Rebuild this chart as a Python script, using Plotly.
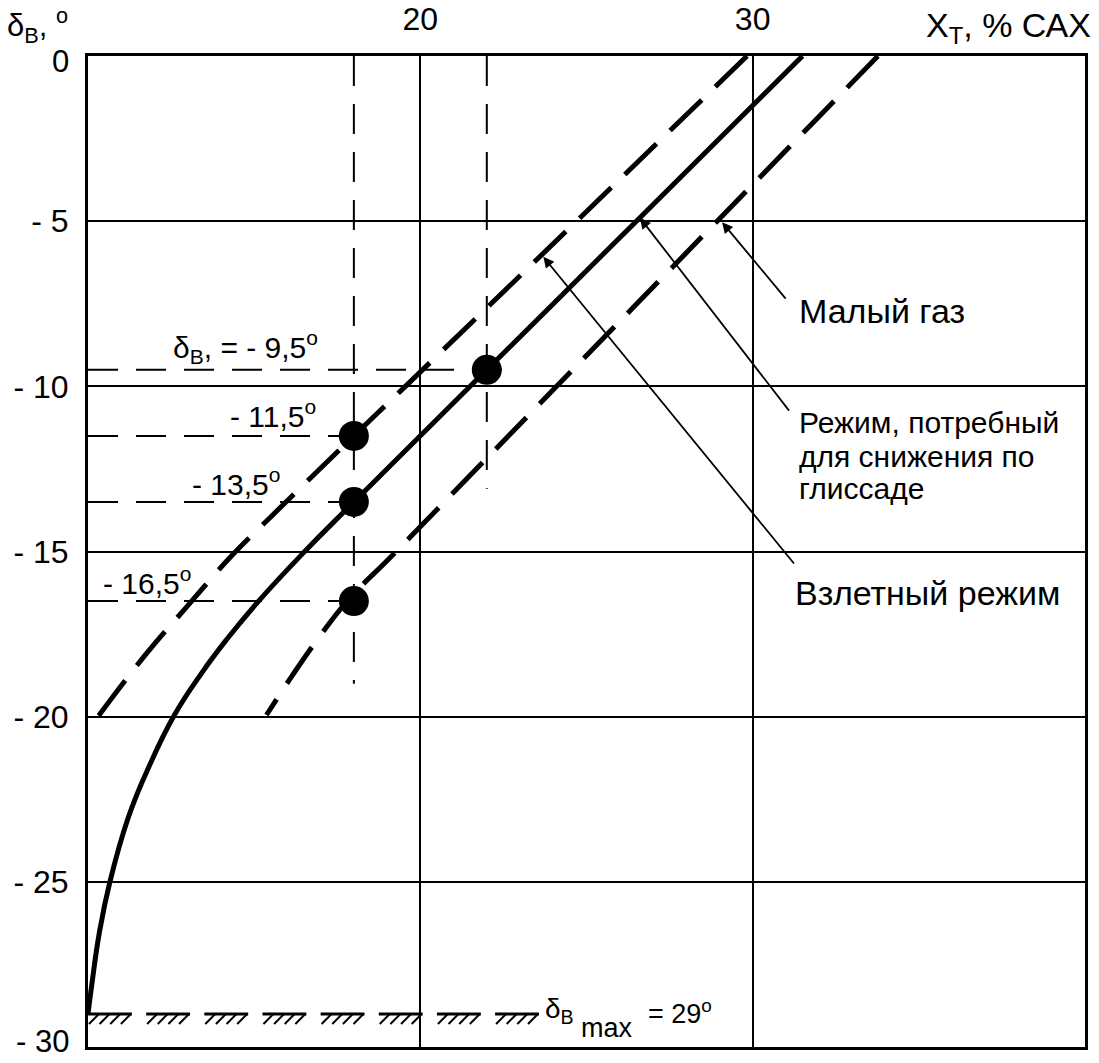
import numpy as np
import plotly.graph_objects as go

# ---------------- data ----------------
# Режим, потребный для снижения по глиссаде (solid)
glide_x = [31.5, 26.5, 22.0, 18.0, 16.52, 15.1, 14.16, 13.42, 12.6, 11.84, 11.22, 10.65, 10.34, 10.12, 10.0]
glide_y = [0.0, -5.0, -9.5, -13.5, -15.0, -16.54, -17.68, -18.68, -19.95, -21.5, -23.03, -25.04, -26.55, -28.07, -29.0]

# Взлетный режим (left dashed)
takeoff_x = [29.83, 24.7, 19.55, 18.0, 15.45, 14.35, 12.95, 11.75, 10.3]
takeoff_y = [0.0, -5.0, -10.0, -11.5, -14.0, -15.1, -16.7, -18.1, -20.0]

# Малый газ (right dashed)
idle_x = [33.77, 28.93, 24.1, 19.27, 17.8, 16.95, 16.15, 15.37]
idle_y = [0.0, -5.0, -10.0, -15.0, -16.5, -17.6, -18.75, -19.95]

# marked points
pt_x = [22.0, 18.0, 18.0, 18.0]
pt_y = [-9.5, -11.5, -13.5, -16.5]
pt_labels = ["δ<sub>В</sub>, = - 9,5<sup>o</sup>", "- 11,5<sup>o</sup>", "- 13,5<sup>o</sup>", "- 16,5<sup>o</sup>"]
pt_hline_end = [22.8, 18.0, 18.0, 18.0]
vline_x = [18.0, 22.0]
vline_bottom = [-19.0, -13.1]

delta_max = -29.0
x_min, x_max = 10, 40
y_min, y_max = -30, 0

x_tickvals = [20, 30]
x_ticktext = ["20", "30"]
y_tickvals = [0, -5, -10, -15, -20, -25, -30]
y_ticktext = ["0", "- 5", "- 10", "- 15", "- 20", "- 25", "- 30"]

FONT = "Liberation Sans, Arial, sans-serif"


def f(size):
    return dict(size=size, family=FONT, color="black")


fig = go.Figure()

# thin dashed helper lines
for xv, yb in zip(vline_x, vline_bottom):
    fig.add_trace(go.Scatter(x=[xv, xv], y=[y_max, yb], mode="lines",
                             line=dict(color="black", width=2, dash="30px,18px"),
                             hoverinfo="skip", showlegend=False))
for yv, xe in zip(pt_y, pt_hline_end):
    fig.add_trace(go.Scatter(x=[x_min, xe], y=[yv, yv], mode="lines",
                             line=dict(color="black", width=2, dash="30px,18px"),
                             hoverinfo="skip", showlegend=False))

# curves
fig.add_trace(go.Scatter(x=glide_x, y=glide_y, mode="lines", line_shape="spline",
                         line=dict(color="black", width=5, smoothing=1.3), showlegend=False))
fig.add_trace(go.Scatter(x=takeoff_x, y=takeoff_y, mode="lines", line_shape="spline",
                         line=dict(color="black", width=5, dash="44px,19px", smoothing=1.2), showlegend=False))
fig.add_trace(go.Scatter(x=idle_x, y=idle_y, mode="lines", line_shape="spline",
                         line=dict(color="black", width=5, dash="44px,19px", smoothing=1.2), showlegend=False))

# points
fig.add_trace(go.Scatter(x=pt_x, y=pt_y, mode="markers",
                         marker=dict(color="black", size=30), showlegend=False))

# hatched limit line δв max
seg_start = x_min + 1.75 * np.arange(8)
seg_len = 1.32
hx, hy = [], []
for s in seg_start:
    hx += [s, s + seg_len, None]
    hy += [delta_max, delta_max, None]
fig.add_trace(go.Scatter(x=hx, y=hy, mode="lines", line=dict(color="black", width=3),
                         hoverinfo="skip", showlegend=False))
tick_x = (seg_start[:, None] + np.array([0.18, 0.5, 0.82, 1.14])[None, :]).ravel()
fig.add_trace(go.Scatter(x=tick_x, y=np.full(tick_x.shape, delta_max - 0.15), mode="markers",
                         marker=dict(symbol="line-ne", size=10, line=dict(color="black", width=2)),
                         hoverinfo="skip", showlegend=False))

ann = []
# point labels
lab_pos = [(14.75, -8.8), (15.57, -10.85), (14.45, -12.9), (11.78, -15.9)]
for (lx, ly), t in zip(lab_pos, pt_labels):
    ann.append(dict(x=lx, y=ly, xref="x", yref="y", text=t, showarrow=False,
                    font=f(30), xanchor="center", yanchor="middle"))

# δв max label
ann.append(dict(x=23.7, y=-28.9, xref="x", yref="y", text="δ<sub>В</sub>", showarrow=False,
                font=f(28), xanchor="left", yanchor="middle"))
ann.append(dict(x=24.78, y=-29.42, xref="x", yref="y", text="max", showarrow=False,
                font=f(27), xanchor="left", yanchor="middle"))
ann.append(dict(x=26.8, y=-28.95, xref="x", yref="y", text="= 29<sup>o</sup>", showarrow=False,
                font=f(27), xanchor="left", yanchor="middle"))

# curve labels
ann.append(dict(x=31.34, y=-7.71, xref="x", yref="y", text="Малый газ", showarrow=False,
                font=f(34), xanchor="left", yanchor="middle"))
for txt, yy in zip(["Режим, потребный", "для снижения по", "глиссаде"], [-11.1, -12.12, -13.1]):
    ann.append(dict(x=31.34, y=yy, xref="x", yref="y", text=txt, showarrow=False,
                    font=f(30), xanchor="left", yanchor="middle"))
ann.append(dict(x=31.22, y=-16.26, xref="x", yref="y", text="Взлетный режим", showarrow=False,
                font=f(34), xanchor="left", yanchor="middle"))

# arrows (tip, tail)
arrows = [((29.08, -5.03), (31.03, -7.39)),
          ((26.61, -4.9), (31.13, -10.78)),
          ((23.70, -6.08), (31.28, -15.41))]
for (tx, ty), (sx, sy) in arrows:
    ann.append(dict(x=tx, y=ty, xref="x", yref="y", ax=sx, ay=sy, axref="x", ayref="y",
                    text="", showarrow=True, arrowhead=2, arrowsize=1.2, arrowwidth=1.8,
                    arrowcolor="black", standoff=0, startstandoff=0))

# axis titles
ann.append(dict(x=0, y=1, xref="paper", yref="paper", xanchor="right", yanchor="bottom",
                xshift=-18, yshift=6, text="δ<sub>В</sub>, <sup>o</sup>", showarrow=False,
                font=f(31)))
ann.append(dict(x=1, y=1, xref="paper", yref="paper", xanchor="right", yanchor="bottom",
                xshift=8, yshift=5, text="X<sub>Т</sub>, % САХ", showarrow=False,
                font=f(34)))

# end labels of the y axis (0 and -30) nudged inward as in the reference
inner_vals = y_tickvals[1:-1]
inner_text = y_ticktext[1:-1]
for val, txt, shift in [(y_tickvals[0], y_ticktext[0], -5), (y_tickvals[-1], y_ticktext[-1], 6)]:
    ann.append(dict(x=0, y=val, xref="paper", yref="y", xanchor="right", yanchor="middle",
                    xshift=-17, yshift=shift, text=txt, showarrow=False, font=f(31)))

fig.update_layout(
    width=1099, height=1063,
    margin=dict(l=88, r=14, t=56, b=16, autoexpand=False),
    paper_bgcolor="white", plot_bgcolor="white",
    font=dict(family=FONT, color="black"),
    annotations=ann,
    xaxis=dict(range=[x_min, x_max], side="top", tickvals=x_tickvals, ticktext=x_ticktext,
               showgrid=True, gridcolor="black", gridwidth=2, zeroline=False,
               showline=True, mirror=True, linecolor="black", linewidth=3, automargin=False,
               ticks="", ticklabelstandoff=10, tickfont=f(32)),
    yaxis=dict(range=[y_min, y_max], tickvals=inner_vals, ticktext=inner_text,
               showgrid=True, gridcolor="black", gridwidth=2, zeroline=False,
               showline=True, mirror=True, linecolor="black", linewidth=3, automargin=False,
               ticks="", ticklabelstandoff=10, tickfont=f(32)),
)

fig.write_html("out.html")
